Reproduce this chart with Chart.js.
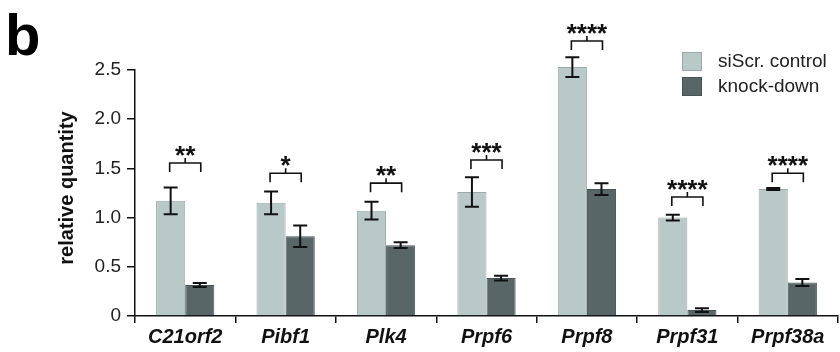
<!DOCTYPE html>
<html>
<head>
<meta charset="utf-8">
<script src="https://cdn.jsdelivr.net/npm/chart.js@4"></script>
<style>
  body { margin: 0; background: #fff; }
  #wrap { width: 840px; height: 352px; }
</style>
</head>
<body>
<div id="wrap"><canvas id="grafico" width="840" height="352"></canvas></div>
<script>
// datos
const genes = ["C21orf2", "Pibf1", "Plk4", "Prpf6", "Prpf8", "Prpf31", "Prpf38a"];
const control = [1.17, 1.15, 1.07, 1.26, 2.53, 1.00, 1.29];
const controlErr = [0.135, 0.115, 0.09, 0.15, 0.10, 0.03, 0.01];
const knockdown = [0.315, 0.81, 0.72, 0.385, 1.29, 0.06, 0.34];
const knockdownErr = [0.02, 0.11, 0.03, 0.025, 0.06, 0.02, 0.035];
const estrellas = ["**", "*", "**", "***", "****", "****", "****"];
const nivelCorchete = [1.555, 1.45, 1.35, 1.585, 2.795, 1.21, 1.45];
const yTicks = [0, 0.5, 1.0, 1.5, 2.0, 2.5];

const colorControl = "#b9c9c7";
const colorKnock = "#586668";
const fuente = "'Liberation Sans', Arial, sans-serif";

// plugin para barras de error, corchetes, leyenda y textos
const extras = {
    id: "extras",
    afterDatasetsDraw(chart) {
        const ctx = chart.ctx;
        const y = chart.scales.y;
        const metaC = chart.getDatasetMeta(0);
        const metaK = chart.getDatasetMeta(1);

        ctx.save();
        ctx.strokeStyle = "#111";
        ctx.lineWidth = 2;

        // barras de error
        const errores = [[metaC, control, controlErr], [metaK, knockdown, knockdownErr]];
        errores.forEach(([meta, vals, errs]) => {
            meta.data.forEach((bar, i) => {
                const top = y.getPixelForValue(vals[i] + errs[i]);
                const bot = y.getPixelForValue(vals[i] - errs[i]);
                ctx.beginPath();
                ctx.moveTo(bar.x, top);
                ctx.lineTo(bar.x, bot);
                ctx.moveTo(bar.x - 7, top);
                ctx.lineTo(bar.x + 7, top);
                ctx.moveTo(bar.x - 7, bot);
                ctx.lineTo(bar.x + 7, bot);
                ctx.stroke();
            });
        });

        // corchetes y estrellas
        ctx.lineWidth = 1.6;
        ctx.fillStyle = "#111";
        ctx.textAlign = "center";
        ctx.textBaseline = "alphabetic";
        ctx.font = "bold 26px " + fuente;
        genes.forEach((g, i) => {
            const x1 = metaC.data[i].x - 1;
            const x2 = metaK.data[i].x + 1;
            const yc = y.getPixelForValue(nivelCorchete[i]);
            const xm = (x1 + x2) / 2;
            ctx.beginPath();
            ctx.moveTo(x1, yc + 9);
            ctx.lineTo(x1, yc);
            ctx.lineTo(x2, yc);
            ctx.lineTo(x2, yc + 9);
            ctx.moveTo(xm, yc);
            ctx.lineTo(xm, yc - 5);
            ctx.stroke();
            ctx.fillText(estrellas[i], xm, yc + 1);
        });

        // leyenda
        const leyenda = [["siScr. control", colorControl, "#9aaba9"], ["knock-down", colorKnock, "#475355"]];
        ctx.textAlign = "left";
        ctx.textBaseline = "middle";
        ctx.font = "19px " + fuente;
        leyenda.forEach(([txt, col, borde], k) => {
            const ly = 52 + k * 25;
            ctx.fillStyle = col;
            ctx.fillRect(682, ly, 20, 19);
            ctx.strokeStyle = borde;
            ctx.lineWidth = 1;
            ctx.strokeRect(682.5, ly + 0.5, 19, 18);
            ctx.fillStyle = "#222";
            ctx.fillText(txt, 718, ly + 10);
        });

        // titulo del eje y
        ctx.save();
        ctx.translate(67, 188);
        ctx.rotate(-Math.PI / 2);
        ctx.textAlign = "center";
        ctx.font = "bold 20px " + fuente;
        ctx.fillStyle = "#111";
        ctx.fillText("relative quantity", 0, 0);
        ctx.restore();

        // letra del panel
        ctx.textAlign = "left";
        ctx.textBaseline = "alphabetic";
        ctx.font = "bold 58px " + fuente;
        ctx.fillStyle = "#000";
        ctx.fillText("b", 5, 55);

        ctx.restore();
    }
};

const data = {
    labels: genes,
    datasets: [
        {
            label: "siScr. control",
            data: control,
            backgroundColor: colorControl,
            borderColor: "#9aaba9",
            borderWidth: 1,
            clip: false
        },
        {
            label: "knock-down",
            data: knockdown,
            backgroundColor: colorKnock,
            borderColor: "#475355",
            borderWidth: 1,
            clip: false
        }
    ]
};

const config = {
    type: "bar",
    data,
    options: {
        responsive: false,
        animation: false,
        layout: { padding: { top: 70, right: 2, left: 0, bottom: 0 } },
        datasets: { bar: { categoryPercentage: 0.58, barPercentage: 1 } },
        plugins: {
            legend: { display: false },
            tooltip: { enabled: false }
        },
        scales: {
            x: {
                grid: { drawOnChartArea: false, tickLength: 7, color: "#111", lineWidth: 1.5, offset: true },
                border: { color: "#111", width: 1.5 },
                ticks: {
                    color: "#111",
                    padding: 2,
                    font: { family: fuente, size: 20, weight: "bold", style: "italic" }
                },
                afterFit(scale) { scale.height = 36; }
            },
            y: {
                min: 0,
                max: 2.5,
                afterBuildTicks(scale) { scale.ticks = yTicks.map(v => ({ value: v })); },
                grid: { drawOnChartArea: false, tickLength: 8, color: "#111", lineWidth: 1.5 },
                border: { color: "#111", width: 1.5 },
                ticks: {
                    color: "#222",
                    padding: 6,
                    font: { family: fuente, size: 19 },
                    callback: (v) => v === 0 ? "0" : v.toFixed(1)
                },
                afterFit(scale) { scale.width = 135; }
            }
        }
    },
    plugins: [extras]
};

const grafico = new Chart(document.getElementById("grafico"), config);
</script>
</body>
</html>
